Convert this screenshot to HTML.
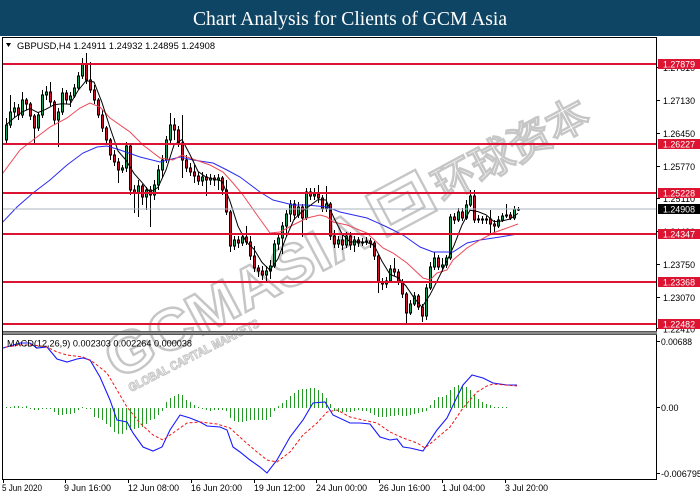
<!DOCTYPE html>
<html><head><meta charset="utf-8">
<style>
html,body{margin:0;padding:0;background:#fff;width:700px;height:500px;overflow:hidden}
svg{display:block}
</style></head><body>
<svg width="700" height="500" viewBox="0 0 700 500" xmlns="http://www.w3.org/2000/svg" font-family="Liberation Sans, sans-serif">
<defs>
<clipPath id="cm"><rect x="3" y="38" width="654" height="293"/></clipPath>
<clipPath id="cd"><rect x="3" y="335" width="654" height="144"/></clipPath>
</defs>
<rect x="0" y="0" width="700" height="500" fill="#fff"/>
<!-- header -->
<rect x="0" y="0" width="700" height="36" fill="#0f4564"/>
<text x="350" y="25" text-anchor="middle" font-family="Liberation Serif, serif" font-size="20" fill="#fff" textLength="314" lengthAdjust="spacingAndGlyphs">Chart Analysis for Clients of GCM Asia</text>

<!-- watermark -->
<g fill="none" stroke="#c6c6c6" stroke-width="2.4">
<g transform="translate(118,380) rotate(-28)">
<text x="0" y="0" font-size="58" font-weight="bold" textLength="290" lengthAdjust="spacingAndGlyphs">GCMASIA</text>
<rect x="305" y="-46" width="56" height="46"/>
<rect x="314" y="-37" width="38" height="28"/>
<path d="M322 -30H344V-16H330"/>
<text x="370" y="-4" font-size="42" font-family="Noto Sans CJK SC, sans-serif" textLength="170" lengthAdjust="spacingAndGlyphs">环球资本</text>
</g>
<g transform="translate(131,392) rotate(-27)" stroke-width="1.1">
<text x="0" y="0" font-size="12" font-weight="bold" textLength="145" lengthAdjust="spacingAndGlyphs">GLOBAL CAPITAL MARKETS</text>
</g>
</g>

<!-- main chart -->
<g clip-path="url(#cm)">
<!-- candles -->
<path fill="none" stroke="#000" stroke-width="1" d="M6.5 118V145M10.5 95V128M14.5 102V118M18.5 104V120M22.5 92V118M26.5 98V110M30.5 102V120M34.5 114V143M38.5 112V131M42.5 90V118M46.5 86V100M50.5 82V106M54.5 100V125M58.5 108V147M62.5 88V115M66.5 90V104M70.5 92V107M74.5 84V98M78.5 72V90M82.5 58V79M86.5 53V84M90.5 62V93M94.5 85V104M98.5 98V118M102.5 110V132M106.5 126V143M110.5 138V160M114.5 150V166M118.5 158V183M122.5 165V173M126.5 142V172M130.5 145V195M134.5 185V213M138.5 180V217M142.5 184V205M146.5 187V210M150.5 186V227M154.5 180V200M158.5 165V190M162.5 155V178M166.5 136V163M170.5 113V143M174.5 118V140M178.5 126V147M182.5 115V178M186.5 155V172M190.5 163V176M194.5 165V183M198.5 172V185M202.5 172V186M206.5 174V196M210.5 174V185M214.5 175V186M218.5 174V190M222.5 176V195M226.5 180V215M230.5 210V252M234.5 236V250M238.5 236V248M242.5 234V246M246.5 226V245M250.5 236V260M254.5 246V272M258.5 265V277M262.5 266V280M266.5 266V282M270.5 260V279M274.5 240V268M278.5 234V250M282.5 222V254M286.5 210V237M290.5 200V222M294.5 200V220M298.5 202V218M302.5 204V237M306.5 188V220M310.5 188V200M314.5 188V200M318.5 185V203M322.5 195V212M326.5 186V212M330.5 202V240M334.5 230V248M338.5 236V248M342.5 234V250M346.5 232V248M350.5 232V250M354.5 236V252M358.5 237V247M362.5 238V246M366.5 237V245M370.5 238V248M374.5 241V260M378.5 254V293M382.5 278V290M386.5 277V288M390.5 265V283M394.5 258V276M398.5 269V285M402.5 279V298M406.5 292V323M410.5 300V315M414.5 292V306M418.5 294V310M422.5 304V322M426.5 284V320M430.5 262V290M434.5 252V270M438.5 255V270M442.5 258V272M446.5 255V268M450.5 214V260M454.5 213V224M458.5 208V222M462.5 208V221M466.5 200V220M470.5 190V207M474.5 190V223M478.5 215V223M482.5 216V224M486.5 216V224M490.5 210V233M494.5 220V232M498.5 216V228M502.5 213V222M506.5 204V218M510.5 212V220M514.5 206V220M518.5 207V211"/>
<path fill="#12a05a" stroke="#000" stroke-width="1" d="M5.5 125h2V140h-2zM9.5 112h2V125h-2zM13.5 108h2V112h-2zM21.5 100h2V115h-2zM37.5 115h2V128h-2zM41.5 95h2V115h-2zM45.5 92h2V95h-2zM57.5 112h2V120h-2zM61.5 93h2V112h-2zM69.5 96h2V100h-2zM73.5 88h2V96h-2zM77.5 76h2V88h-2zM81.5 64h2V76h-2zM121.5 168h2V170h-2zM125.5 146h2V168h-2zM137.5 186h2V193h-2zM145.5 190h2V197h-2zM153.5 185h2V195h-2zM157.5 170h2V185h-2zM161.5 160h2V170h-2zM165.5 140h2V160h-2zM169.5 125h2V140h-2zM201.5 177h2V181h-2zM209.5 178h2V180h-2zM217.5 178h2V180h-2zM233.5 240h2V246h-2zM241.5 237h2V243h-2zM265.5 271h2V275h-2zM269.5 266h2V271h-2zM273.5 244h2V266h-2zM277.5 238h2V244h-2zM281.5 226h2V238h-2zM285.5 214h2V226h-2zM289.5 204h2V214h-2zM297.5 207h2V215h-2zM305.5 192h2V218h-2zM313.5 194h2V196h-2zM325.5 204h2V208h-2zM337.5 240h2V244h-2zM345.5 236h2V245h-2zM353.5 240h2V245h-2zM361.5 242h2V243h-2zM365.5 241h2V242h-2zM385.5 281h2V284h-2zM389.5 269h2V281h-2zM409.5 304h2V313h-2zM413.5 296h2V304h-2zM425.5 288h2V316h-2zM429.5 267h2V288h-2zM433.5 258h2V267h-2zM441.5 265h2V267h-2zM445.5 258h2V265h-2zM449.5 217h2V258h-2zM457.5 212h2V220h-2zM465.5 205h2V218h-2zM469.5 196h2V205h-2zM477.5 219h2V220h-2zM485.5 219h2V220h-2zM497.5 220h2V226h-2zM501.5 216h2V220h-2zM505.5 215h2V216h-2zM513.5 209h2V218h-2zM517.5 209h2V210h-2z"/>
<path fill="#d0102a" stroke="#000" stroke-width="1" d="M17.5 108h2V115h-2zM25.5 100h2V104h-2zM29.5 104h2V116h-2zM33.5 116h2V128h-2zM49.5 92h2V102h-2zM53.5 102h2V120h-2zM65.5 93h2V100h-2zM85.5 64h2V80h-2zM89.5 80h2V90h-2zM93.5 90h2V100h-2zM97.5 100h2V115h-2zM101.5 115h2V128h-2zM105.5 128h2V140h-2zM109.5 140h2V155h-2zM113.5 155h2V162h-2zM117.5 162h2V170h-2zM129.5 146h2V190h-2zM133.5 190h2V193h-2zM141.5 186h2V197h-2zM149.5 190h2V195h-2zM173.5 125h2V130h-2zM177.5 130h2V143h-2zM181.5 143h2V160h-2zM185.5 160h2V168h-2zM189.5 168h2V172h-2zM193.5 172h2V176h-2zM197.5 176h2V181h-2zM205.5 177h2V180h-2zM213.5 178h2V180h-2zM221.5 178h2V190h-2zM225.5 190h2V212h-2zM229.5 212h2V246h-2zM237.5 240h2V243h-2zM245.5 237h2V242h-2zM249.5 242h2V256h-2zM253.5 256h2V268h-2zM257.5 268h2V271h-2zM261.5 271h2V275h-2zM293.5 204h2V215h-2zM301.5 207h2V218h-2zM309.5 192h2V196h-2zM317.5 194h2V198h-2zM321.5 198h2V208h-2zM329.5 204h2V236h-2zM333.5 236h2V244h-2zM341.5 240h2V245h-2zM349.5 236h2V245h-2zM357.5 240h2V243h-2zM369.5 241h2V243h-2zM373.5 243h2V256h-2zM377.5 256h2V282h-2zM381.5 282h2V284h-2zM393.5 269h2V272h-2zM397.5 272h2V282h-2zM401.5 282h2V294h-2zM405.5 294h2V313h-2zM417.5 296h2V307h-2zM421.5 307h2V316h-2zM437.5 258h2V267h-2zM453.5 217h2V220h-2zM461.5 212h2V218h-2zM473.5 196h2V220h-2zM481.5 219h2V220h-2zM489.5 219h2V224h-2zM493.5 224h2V226h-2zM509.5 215h2V218h-2z"/>
<!-- moving averages -->
<polyline fill="none" stroke="#2a2af0" stroke-width="1" points="0,225 17,207 33,193 50,180 67,165 83,153 97,147 107,146 120,150 140,157 160,162 180,157 193,160 213,163 227,170 240,177 260,192 273,200 293,205 307,205 327,207 340,212 367,218 387,227 403,235 420,247 433,252 453,252 467,243 480,240 500,237 518,234"/>
<polyline fill="none" stroke="#ec4858" stroke-width="1" points="0,177 20,150 33,140 50,127 67,118 80,108 90,103 100,107 110,118 130,132 143,145 160,158 173,160 182,155 190,158 210,165 223,172 233,183 243,195 257,215 270,233 280,232 293,225 307,218 320,215 327,217 333,222 347,225 367,233 383,248 393,253 407,263 423,278 430,280 437,273 447,270 453,260 467,248 480,240 493,233 507,228 518,224"/>
<polyline fill="none" stroke="#000" stroke-width="1" points="6,125 14,118 22,112 30,108.6 38,112.6 46,109.2 54,104.8 62,103.8 70,104.2 78,90.6 86,80.8 94,82 102,102.6 110,127.6 118,151 126,160.2 134,173.4 142,182.4 150,192.2 158,187.4 166,170 174,145 182,139.6 190,154.6 198,171.4 206,177.2 214,179.2 222,181.2 230,201.2 238,226.2 246,241.6 254,249.2 262,262.4 270,270.2 278,258.8 286,237.6 294,219.4 302,211.6 310,205.6 318,199.6 326,200 334,218 342,233.8 350,242 358,241.8 366,242.2 374,245 382,261.2 390,274.4 398,277.6 406,286 414,297.8 422,307.2 430,294.8 438,279.2 446,263 454,245.4 462,225 470,210.2 478,211.6 486,214.8 494,221.6 502,221 510,219 518,213.4"/>
<!-- current price line -->
<rect x="3" y="208.5" width="654" height="1" fill="#aab6c2"/>
<!-- horizontal levels -->
<g fill="#dc1432">
<rect x="3" y="63" width="654" height="2"/>
<rect x="3" y="143" width="654" height="2"/>
<rect x="3" y="192" width="654" height="2"/>
<rect x="3" y="233" width="654" height="2"/>
<rect x="3" y="281" width="654" height="2"/>
<rect x="3" y="323" width="654" height="2"/>
</g>
</g>
<!-- main title -->
<polygon points="6,43 11,43 8.5,47" fill="#000"/>
<text x="17" y="49" font-size="9.5" fill="#000" textLength="198" lengthAdjust="spacingAndGlyphs">GBPUSD,H4  1.24911 1.24932 1.24895 1.24908</text>

<!-- MACD panel -->
<g clip-path="url(#cd)">
<path fill="none" stroke="#229922" stroke-width="1" d="M6.5 408V407M10.5 408V407M14.5 408V406M18.5 408V406M22.5 408V407M26.5 408V406M30.5 408V409M34.5 408V410M38.5 408V410M42.5 408V409M46.5 408V409M50.5 408V409M54.5 408V412M58.5 408V415M62.5 408V415M66.5 408V414M70.5 408V414M74.5 408V413M78.5 408V410M82.5 408V407M86.5 408V409M90.5 408V409M94.5 408V417M98.5 408V418M102.5 408V420M106.5 408V424M110.5 408V427M114.5 408V432M118.5 408V434M122.5 408V434M126.5 408V430M130.5 408V430M134.5 408V429M138.5 408V428M142.5 408V427M146.5 408V424M150.5 408V420M154.5 408V419M158.5 408V415M162.5 408V411M166.5 408V402M170.5 408V398M174.5 408V396M178.5 408V394M182.5 408V395M186.5 408V400M190.5 408V402M194.5 408V405M198.5 408V407M202.5 408V409M206.5 408V410M210.5 408V411M214.5 408V410M218.5 408V410M222.5 408V410M226.5 408V411M230.5 408V418M234.5 408V421M238.5 408V422M242.5 408V422M246.5 408V421M250.5 408V420M254.5 408V420M258.5 408V420M262.5 408V420M266.5 408V420M270.5 408V417M274.5 408V411M278.5 408V406M282.5 408V403M286.5 408V400M290.5 408V396M294.5 408V393M298.5 408V390M302.5 408V389M306.5 408V389M310.5 408V388M314.5 408V388M318.5 408V390M322.5 408V393M326.5 408V398M330.5 408V404M334.5 408V411M338.5 408V412M342.5 408V412M346.5 408V412M350.5 408V412M354.5 408V411M358.5 408V410M362.5 408V411M366.5 408V411M370.5 408V413M374.5 408V415M378.5 408V417M382.5 408V417M386.5 408V417M390.5 408V416M394.5 408V416M398.5 408V415M402.5 408V416M406.5 408V416M410.5 408V415M414.5 408V414M418.5 408V413M422.5 408V412M426.5 408V411M430.5 408V405M434.5 408V400M438.5 408V397M442.5 408V397M446.5 408V395M450.5 408V390M454.5 408V387M458.5 408V385M462.5 408V386M466.5 408V387M470.5 408V390M474.5 408V395M478.5 408V399M482.5 408V402M486.5 408V404M490.5 408V405M494.5 408V407M498.5 408V407M502.5 408V407M506.5 408V407"/>
<polyline fill="none" stroke="#1818ff" stroke-width="1.1" points="0,349 10,346 20,343 30,343 37,348 47,347 57,359 67,362 77,359 83,358 90,360 100,377 110,400 117,420 127,422 133,433 143,447 153,451 162,447 170,430 180,415 190,418 200,422 207,426 220,427 227,430 233,447 240,452 250,460 260,467 267,473 277,460 290,437 303,420 313,403 325,402 333,415 350,423 360,423 370,424 380,437 390,440 397,439 403,447 410,448 423,451 437,430 447,418 457,397 463,385 472,375 483,378 493,383 507,385 517,385"/>
<polyline fill="none" stroke="#f01818" stroke-width="1" stroke-dasharray="3 2" points="0,348 20,345 33,345 47,347 57,352 67,355 83,357 93,362 107,373 117,390 127,407 140,423 153,435 163,440 173,433 187,423 200,422 217,424 230,428 243,440 257,452 267,460 277,462 290,452 303,435 317,423 327,412 337,410 350,417 363,420 377,423 390,432 403,438 417,443 425,448 437,438 450,427 463,408 477,392 487,386 493,384 517,386"/>
</g>
<text x="7" y="346.5" font-size="9.5" fill="#000" textLength="185" lengthAdjust="spacingAndGlyphs">MACD(12,26,9) 0.002303 0.002264 0.000038</text>

<!-- frame -->
<g fill="none" stroke="#000" stroke-width="1">
<path d="M2.5 37.5H656.5V479.5H2.5Z"/>
</g>
<rect x="3" y="331" width="654" height="4" fill="#8c8c8c"/>
<rect x="3" y="331" width="654" height="1" fill="#555"/>
<rect x="3" y="334" width="654" height="1" fill="#555"/>

<!-- right axis ticks -->
<path stroke="#000" stroke-width="1" d="M657 67.5h3M657 100.5h3M657 133.5h3M657 166.5h3M657 198.5h3M657 231.5h3M657 264.5h3M657 297.5h3M657 328.5h3M657 341.5h3M657 407.5h3M657 473.5h3"/>
<g font-size="9" fill="#000">
<text x="663" y="71" textLength="32" lengthAdjust="spacingAndGlyphs">1.27810</text>
<text x="663" y="104" textLength="32" lengthAdjust="spacingAndGlyphs">1.27130</text>
<text x="663" y="137" textLength="32" lengthAdjust="spacingAndGlyphs">1.26450</text>
<text x="663" y="170" textLength="32" lengthAdjust="spacingAndGlyphs">1.25770</text>
<text x="663" y="202" textLength="32" lengthAdjust="spacingAndGlyphs">1.25110</text>
<text x="663" y="235" textLength="32" lengthAdjust="spacingAndGlyphs">1.24430</text>
<text x="663" y="268" textLength="32" lengthAdjust="spacingAndGlyphs">1.23750</text>
<text x="663" y="301" textLength="32" lengthAdjust="spacingAndGlyphs">1.23070</text>
<text x="663" y="332.5" textLength="32" lengthAdjust="spacingAndGlyphs">1.22410</text>
<text x="661" y="345" textLength="31" lengthAdjust="spacingAndGlyphs">0.00688</text>
<text x="661" y="411">0.00</text>
<text x="661" y="477" textLength="41" lengthAdjust="spacingAndGlyphs">-0.006795</text>
</g>
<!-- level labels -->
<g fill="#dc1432">
<rect x="658" y="59" width="42" height="10"/>
<rect x="658" y="139" width="42" height="10"/>
<rect x="658" y="188" width="42" height="10"/>
<rect x="658" y="229" width="42" height="10"/>
<rect x="658" y="277" width="42" height="10"/>
<rect x="658" y="319" width="42" height="10"/>
</g>
<rect x="658" y="204" width="42" height="10" fill="#000"/>
<g font-size="9" fill="#fff">
<text x="663" y="67.5" textLength="32" lengthAdjust="spacingAndGlyphs">1.27879</text>
<text x="663" y="147.5" textLength="32" lengthAdjust="spacingAndGlyphs">1.26227</text>
<text x="663" y="196.5" textLength="32" lengthAdjust="spacingAndGlyphs">1.25228</text>
<text x="663" y="212.5" textLength="32" lengthAdjust="spacingAndGlyphs">1.24908</text>
<text x="663" y="237.5" textLength="32" lengthAdjust="spacingAndGlyphs">1.24347</text>
<text x="663" y="285.5" textLength="32" lengthAdjust="spacingAndGlyphs">1.23368</text>
<text x="663" y="327.5" textLength="32" lengthAdjust="spacingAndGlyphs">1.22482</text>
</g>

<!-- time axis -->
<path stroke="#000" stroke-width="1" d="M3.5 480v3M65.5 480v3M128.5 480v3M191.5 480v3M254.5 480v3M316.5 480v3M379.5 480v3M442.5 480v3M505.5 480v3"/>
<g font-size="9.5" fill="#000">
<text x="2" y="491" textLength="40" lengthAdjust="spacingAndGlyphs">5 Jun 2020</text>
<text x="64" y="491" textLength="47" lengthAdjust="spacingAndGlyphs">9 Jun 16:00</text>
<text x="128" y="491" textLength="51" lengthAdjust="spacingAndGlyphs">12 Jun 08:00</text>
<text x="191" y="491" textLength="51" lengthAdjust="spacingAndGlyphs">16 Jun 20:00</text>
<text x="254" y="491" textLength="51" lengthAdjust="spacingAndGlyphs">19 Jun 12:00</text>
<text x="316" y="491" textLength="51" lengthAdjust="spacingAndGlyphs">24 Jun 00:00</text>
<text x="379" y="491" textLength="51" lengthAdjust="spacingAndGlyphs">26 Jun 16:00</text>
<text x="442" y="491" textLength="43" lengthAdjust="spacingAndGlyphs">1 Jul 04:00</text>
<text x="505" y="491" textLength="43" lengthAdjust="spacingAndGlyphs">3 Jul 20:00</text>
</g>
</svg>
</body></html>
